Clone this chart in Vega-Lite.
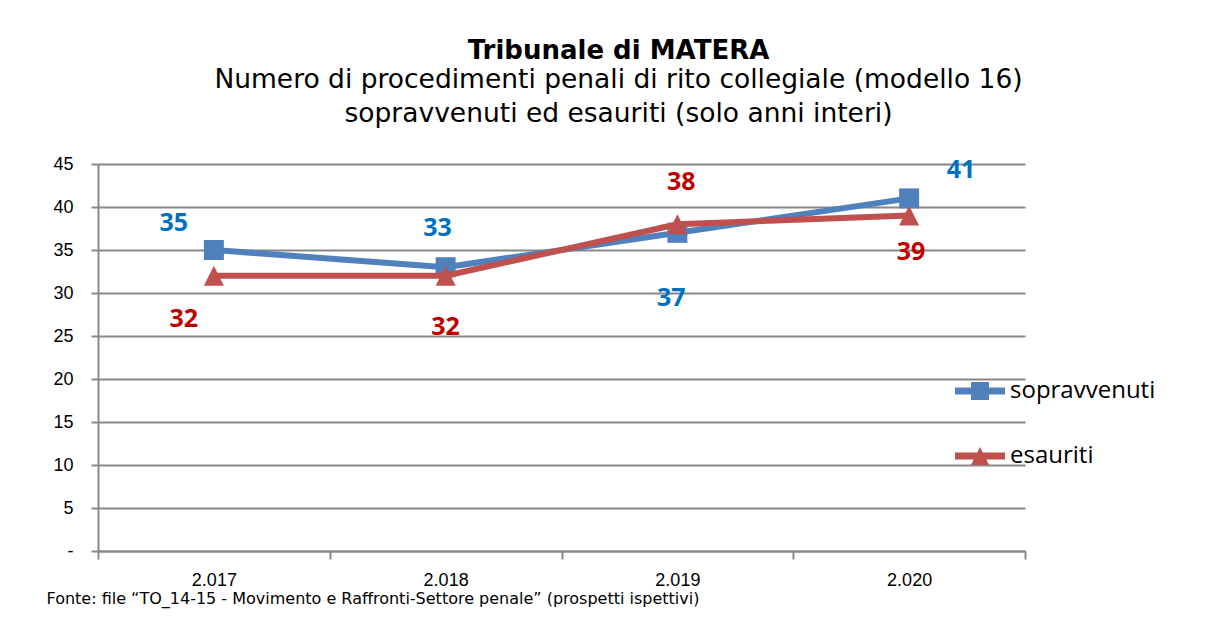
{
  "$schema": "https://vega.github.io/schema/vega-lite/v6.json",
  "width": 927,
  "height": 387,
  "autosize": {"type": "none"},
  "padding": {"left": 98, "top": 164, "right": 183, "bottom": 68},
  "background": "white",
  "title": {
    "text": "Tribunale di MATERA",
    "subtitle": ["Numero di procedimenti penali di rito collegiale (modello 16)", "sopravvenuti ed esauriti (solo anni interi)"],
    "font": "DejaVu Sans",
    "fontSize": 26,
    "fontWeight": "bold",
    "color": "black",
    "subtitleFont": "DejaVu Sans",
    "subtitleFontSize": 26.5,
    "subtitleColor": "black",
    "subtitleLineHeight": 34,
    "subtitlePadding": 3,
    "anchor": "middle",
    "dx": 57,
    "offset": 28
  },
  "data": {
    "values": [
      {"anno": "2.017", "serie": "sopravvenuti", "valore": 35},
      {"anno": "2.018", "serie": "sopravvenuti", "valore": 33},
      {"anno": "2.019", "serie": "sopravvenuti", "valore": 37},
      {"anno": "2.020", "serie": "sopravvenuti", "valore": 41},
      {"anno": "2.017", "serie": "esauriti", "valore": 32},
      {"anno": "2.018", "serie": "esauriti", "valore": 32},
      {"anno": "2.019", "serie": "esauriti", "valore": 38},
      {"anno": "2.020", "serie": "esauriti", "valore": 39}
    ]
  },
  "encoding": {
    "x": {
      "field": "anno",
      "type": "ordinal",
      "bandPosition": 0.5,
      "scale": {"type": "band", "paddingInner": 0, "paddingOuter": 0},
      "axis": {
        "title": "Fonte: file “TO_14-15 - Movimento e Raffronti-Settore penale” (prospetti ispettivi)",
        "titleFont": "DejaVu Sans",
        "titleFontSize": 16,
        "titleFontWeight": "normal",
        "titleColor": "black",
        "titleAnchor": "start",
        "titleAlign": "left",
        "titleBaseline": "middle",
        "titleX": -52,
        "titleY": 47,
        "labelAngle": 0,
        "labelFont": "Liberation Sans",
        "labelFontSize": 18,
        "labelColor": "black",
        "labelPadding": 12,
        "tickBand": "extent",
        "tickSize": 8,
        "tickColor": "#888888",
        "tickWidth": 2,
        "domainColor": "#888888",
        "domainWidth": 2,
        "grid": false
      }
    },
    "y": {
      "field": "valore",
      "type": "quantitative",
      "scale": {"domain": [0, 45], "nice": false},
      "axis": {
        "title": null,
        "values": [0, 5, 10, 15, 20, 25, 30, 35, 40, 45],
        "labelExpr": "datum.value === 0 ? '-' : datum.label",
        "labelFont": "Liberation Sans",
        "labelFontSize": 18,
        "labelColor": "black",
        "labelPadding": 18,
        "tickSize": 7,
        "tickColor": "#888888",
        "tickWidth": 2,
        "domainColor": "#888888",
        "domainWidth": 2,
        "grid": true,
        "gridColor": "#888888",
        "gridWidth": 2
      }
    }
  },
  "layer": [
    {
      "mark": {"type": "point", "filled": true, "size": 400, "opacity": 0, "strokeWidth": 0},
      "encoding": {
        "color": {
          "field": "serie", "type": "nominal",
          "scale": {"domain": ["sopravvenuti", "esauriti"], "range": ["#4F81BD", "#C0504D"]},
          "legend": {
            "orient": "none", "legendX": 870, "legendY": 215, "title": null,
            "labelFont": "Open Sans", "labelFontSize": 24, "labelColor": "black",
            "symbolSize": 400, "labelOffset": 18, "rowPadding": 41, "padding": 0,
            "symbolStrokeWidth": 0, "symbolOpacity": 1
          }
        },
        "shape": {
          "field": "serie", "type": "nominal",
          "scale": {"domain": ["sopravvenuti", "esauriti"], "range": ["M-2.5,-0.35L2.5,-0.35L2.5,0.35L-2.5,0.35ZM-0.9,-0.9L0.9,-0.9L0.9,0.9L-0.9,0.9Z", "M-2.5,-0.35L2.5,-0.35L2.5,0.35L-2.5,0.35ZM0,-0.9L0.9,0.9L-0.9,0.9Z"]},
          "legend": {
            "orient": "none", "legendX": 870, "legendY": 215, "title": null,
            "labelFont": "Open Sans", "labelFontSize": 24, "labelColor": "black",
            "symbolSize": 400, "labelOffset": 18, "rowPadding": 41, "padding": 0,
            "symbolStrokeWidth": 0, "symbolOpacity": 1
          }
        }
      }
    },
    {
      "transform": [{"filter": "datum.serie === 'sopravvenuti'"}],
      "mark": {"type": "line", "color": "#4F81BD", "strokeWidth": 6, "strokeJoin": "round", "strokeCap": "round"},
      "encoding": {}
    },
    {
      "transform": [{"filter": "datum.serie === 'sopravvenuti'"}],
      "mark": {"type": "point", "filled": true, "size": 400, "opacity": 1, "strokeWidth": 0, "color": "#4F81BD", "shape": "square"},
      "encoding": {}
    },
    {
      "transform": [{"filter": "datum.serie === 'esauriti'"}],
      "mark": {"type": "line", "color": "#C0504D", "strokeWidth": 6, "strokeJoin": "round", "strokeCap": "round"},
      "encoding": {}
    },
    {
      "transform": [{"filter": "datum.serie === 'esauriti'"}],
      "mark": {"type": "point", "filled": true, "size": 400, "opacity": 1, "strokeWidth": 0, "color": "#C0504D", "shape": "M0,-1L1,1L-1,1Z"},
      "encoding": {}
    },
    {
      "transform": [{"filter": "datum.serie === 'sopravvenuti' && datum.anno === '2.017'"}],
      "mark": {"type": "text", "font": "Open Sans", "fontSize": 25, "fontWeight": "bold", "color": "#0070C0", "dx": -40, "dy": -27},
      "encoding": {"text": {"field": "valore"}}
    },
    {
      "transform": [{"filter": "datum.serie === 'sopravvenuti' && datum.anno === '2.018'"}],
      "mark": {"type": "text", "font": "Open Sans", "fontSize": 25, "fontWeight": "bold", "color": "#0070C0", "dx": -8, "dy": -39},
      "encoding": {"text": {"field": "valore"}}
    },
    {
      "transform": [{"filter": "datum.serie === 'sopravvenuti' && datum.anno === '2.019'"}],
      "mark": {"type": "text", "font": "Open Sans", "fontSize": 25, "fontWeight": "bold", "color": "#0070C0", "dx": -6, "dy": 65},
      "encoding": {"text": {"field": "valore"}}
    },
    {
      "transform": [{"filter": "datum.serie === 'sopravvenuti' && datum.anno === '2.020'"}],
      "mark": {"type": "text", "font": "Open Sans", "fontSize": 25, "fontWeight": "bold", "color": "#0070C0", "dx": 52, "dy": -28},
      "encoding": {"text": {"field": "valore"}}
    },
    {
      "transform": [{"filter": "datum.serie === 'esauriti' && datum.anno === '2.017'"}],
      "mark": {"type": "text", "font": "Open Sans", "fontSize": 25, "fontWeight": "bold", "color": "#C00000", "dx": -30, "dy": 43},
      "encoding": {"text": {"field": "valore"}}
    },
    {
      "transform": [{"filter": "datum.serie === 'esauriti' && datum.anno === '2.018'"}],
      "mark": {"type": "text", "font": "Open Sans", "fontSize": 25, "fontWeight": "bold", "color": "#C00000", "dx": 0, "dy": 51},
      "encoding": {"text": {"field": "valore"}}
    },
    {
      "transform": [{"filter": "datum.serie === 'esauriti' && datum.anno === '2.019'"}],
      "mark": {"type": "text", "font": "Open Sans", "fontSize": 25, "fontWeight": "bold", "color": "#C00000", "dx": 4, "dy": -42},
      "encoding": {"text": {"field": "valore"}}
    },
    {
      "transform": [{"filter": "datum.serie === 'esauriti' && datum.anno === '2.020'"}],
      "mark": {"type": "text", "font": "Open Sans", "fontSize": 25, "fontWeight": "bold", "color": "#C00000", "dx": 2, "dy": 36},
      "encoding": {"text": {"field": "valore"}}
    }
  ],
  "config": {
    "view": {"stroke": null},
    "text": {"baseline": "middle", "align": "center"}
  }
}
